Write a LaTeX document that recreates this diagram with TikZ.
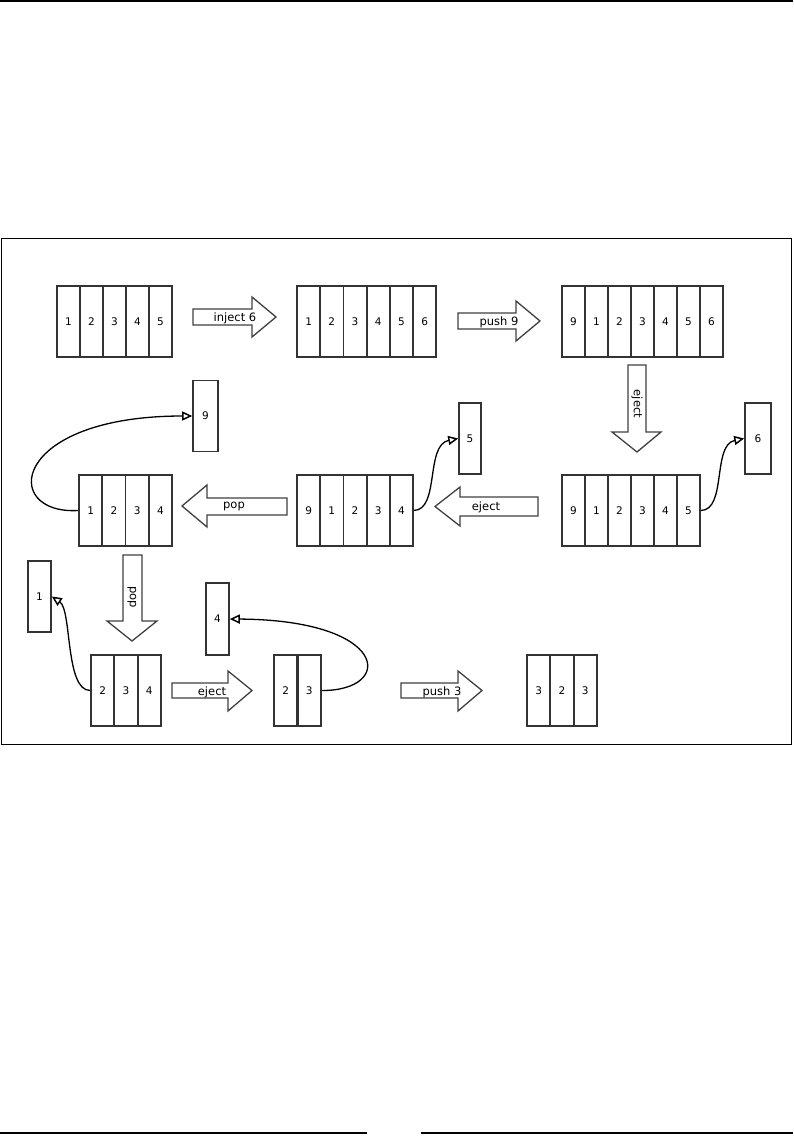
\documentclass[tikz,border=0pt]{standalone}
\usepackage{fontspec}
\setmainfont{DejaVu Sans}
\usepackage{tikz}
\usetikzlibrary{arrows.meta}
\usetikzlibrary{positioning}

\tikzset{
	cell/.style={draw=black!80, line width=1.6pt, minimum width=23pt, minimum height=71pt, inner sep=0pt, font=\fontsize{10.5}{12}\selectfont},
	single/.style={cell, minimum width=24pt},
	barrow/.style={draw=black!75, line width=1.3pt, fill=white, line join=miter},
	blabel/.style={inner sep=0pt, anchor=base, font=\fontsize{11.5}{13}\selectfont},
	conn/.style={line width=1.3pt, -{Triangle[open, length=10pt, width=9pt, line width=1.5pt]}}
}

\begin{document}
\begin{tikzpicture}[x=1pt, y=-1pt]
				\useasboundingbox (0,0) rectangle (793,1142);
				\draw[line width=1.5pt] (0,0.8) -- (793,0.8);
				\draw[line width=1.3pt] (0,1133) -- (367,1133);
				\draw[line width=1.3pt] (421,1133) -- (793,1133);
				\draw[line width=1pt] (1,238) rectangle (791,744);
				% row 1
				\foreach \v [count=\i] in {1,2,3,4,5}
				{
					\node[cell] (a\i) at (57+23*\i-11.5, 321.5) {\v};
				}
				\foreach \v [count=\i] in {1,2,3,4,5,6}
				{
					\node[cell] (b\i) at (297+23.2*\i-11.6, 321.5) {\v};
				}
				\foreach \v [count=\i] in {9,1,2,3,4,5,6}
				{
					\node[cell] (c\i) at (562+23*\i-11.5, 321.5) {\v};
				}
				% row 2
				\foreach \v [count=\i] in {9,1,2,3,4,5}
				{
					\node[cell] (d\i) at (562+23*\i-11.5, 510.5) {\v};
				}
				\foreach \v [count=\i] in {9,1,2,3,4}
				{
					\node[cell] (e\i) at (297+23.2*\i-11.6, 510.5) {\v};
				}
				\foreach \v [count=\i] in {1,2,3,4}
				{
					\node[cell] (f\i) at (79+23.25*\i-11.625, 510.5) {\v};
				}
				\node[single, minimum width=26pt] (six) at (758, 438.5) {6};
				\node[single, minimum width=22pt] (five) at (470, 438.5) {5};
				\node[single, minimum width=25pt] (nine) at (205.5, 416) {9};
				% row 3
				\foreach \v [count=\i] in {2,3,4}
				{
					\node[cell] (g\i) at (91+23.3*\i-11.65, 690.5) {\v};
				}
				\foreach \v [count=\i] in {2,3}
				{
					\node[cell] (h\i) at (274+23.5*\i-11.75, 690.5) {\v};
				}
				\foreach \v [count=\i] in {3,2,3}
				{
					\node[cell] (i\i) at (527+23.3*\i-11.65, 690.5) {\v};
				}
				\node[single, minimum width=23pt] (one) at (39.5, 596.5) {1};
				\node[single, minimum width=23pt, minimum height=72pt] (four) at (217.5, 619) {4};
				% block arrows
				\draw[barrow] (193,309) -- (252,309) -- (252,297) -- (276,317) -- (252,337) -- (252,325) -- (193,325) -- cycle;
				\node[blabel] (inj) at (235,321.5) {inject 6};
				\draw[barrow] (458,313) -- (516,313) -- (516,301) -- (540,321) -- (516,341) -- (516,329) -- (458,329) -- cycle;
				\node[blabel] (push9) at (499,325.5) {push 9};
				\draw[barrow] (628,365) -- (646,365) -- (646,432) -- (661,432) -- (637,452) -- (612,432) -- (628,432) -- cycle;
				\node[blabel, anchor=center, rotate=-90] (ejdown) at (637,404) {eject};
				\draw[barrow] (538,497) -- (460,497) -- (460,487) -- (435,506.5) -- (460,526) -- (460,516) -- (538,516) -- cycle;
				\node[blabel] (ejleft) at (486,510.5) {eject};
				\draw[barrow] (287,498) -- (207,498) -- (207,485) -- (182,506) -- (207,527) -- (207,515) -- (287,515) -- cycle;
				\node[blabel] (popleft) at (234,508.5) {pop};
				\draw[barrow] (123,555) -- (142,555) -- (142,621) -- (157,621) -- (132,641) -- (107,621) -- (123,621) -- cycle;
				\node[blabel, anchor=center, rotate=-90] (popdown) at (132,597) {pop};
				\draw[barrow] (172,683) -- (228,683) -- (228,671) -- (252,690.5) -- (228,711) -- (228,698) -- (172,698) -- cycle;
				\node[blabel] (ejright) at (212,695) {eject};
				\draw[barrow] (401,683) -- (458,683) -- (458,671) -- (482,690.5) -- (458,711) -- (458,698) -- (401,698) -- cycle;
				\node[blabel] (push3) at (442,695) {push 3};
				% moved items
				\draw[conn] (f1.west) .. controls (0,515) and (10,416) .. (nine.west);
				\draw[conn] (e5.east) .. controls (440,510) and (425,445) .. (five.west);
				\draw[conn] (d6.east) .. controls (727,510) and (712,445) .. (six.west);
				\draw[conn] (g1.west) .. controls (65,691) and (72,610) .. (one.east);
				\draw[conn] (h2.east) .. controls (395,691) and (390,620) .. (four.east);
			\end{tikzpicture}
\end{document}
